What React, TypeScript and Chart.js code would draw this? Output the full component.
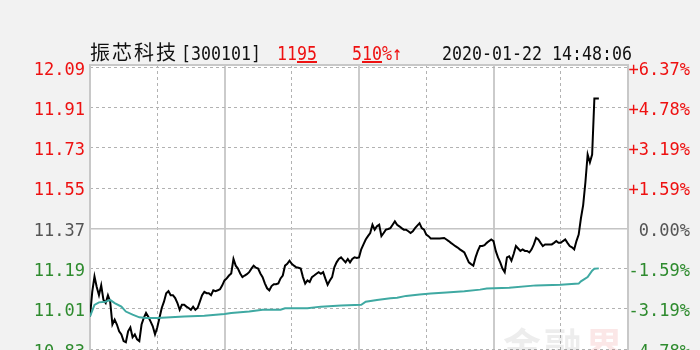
import React, { useEffect, useRef } from "react";
import { Chart, registerables } from "chart.js";

Chart.register(...registerables);

// ---- data ----
const PREV_CLOSE = 11.37;
const Y_MIN = 10.76;
const Y_MAX = 12.1;
const PRICE_TICKS = [12.09, 11.91, 11.73, 11.55, 11.37, 11.19, 11.01, 10.83];
const PCT_LABELS = ["+6.37%", "+4.78%", "+3.19%", "+1.59%", "0.00%", "-1.59%", "-3.19%", "-4.78%"];
const MINUTE_TICKS = [0, 30, 60, 90, 120, 150, 180, 210, 240];

// one price per trading minute, from 09:30 (index 0) to 14:48
const PRICES = [
  10.976, 11.086, 11.155, 11.108, 11.071, 11.115, 11.05, 11.036, 11.071, 11.042,
  10.94, 10.962, 10.94, 10.91, 10.896, 10.866, 10.861, 10.91, 10.927, 10.883,
  10.896, 10.874, 10.866, 10.94, 10.97, 10.992, 10.975, 10.954, 10.932, 10.896,
  10.927, 10.97, 11.014, 11.042, 11.08, 11.089, 11.071, 11.071, 11.058, 11.036,
  11.006, 11.028, 11.028, 11.02, 11.014, 11.006, 11.02, 11.006, 11.014, 11.042,
  11.071, 11.086, 11.08, 11.08, 11.071, 11.093, 11.089, 11.093, 11.098, 11.115,
  11.137, 11.146, 11.159, 11.168, 11.233, 11.203, 11.19, 11.168, 11.152, 11.159,
  11.165, 11.174, 11.19, 11.203, 11.194, 11.19, 11.168, 11.152, 11.124, 11.102,
  11.093, 11.112, 11.12, 11.12, 11.124, 11.146, 11.159, 11.203, 11.211, 11.225,
  11.211, 11.203, 11.196, 11.194, 11.19, 11.152, 11.123, 11.137, 11.13, 11.152,
  11.159, 11.167, 11.174, 11.167, 11.174, 11.145, 11.118, 11.137, 11.152, 11.196,
  11.218, 11.233, 11.24, 11.229, 11.218, 11.233, 11.218, 11.233, 11.24, 11.237,
  11.24, 11.276, 11.298, 11.32, 11.335, 11.349, 11.386, 11.364, 11.379, 11.386,
  11.335, 11.349, 11.364, 11.367, 11.371, 11.386, 11.401, 11.386, 11.379, 11.371,
  11.364, 11.364, 11.357, 11.349, 11.357, 11.371, 11.382, 11.393, 11.371, 11.364,
  11.342, 11.335, 11.325, 11.325, 11.325, 11.325, 11.325, 11.326, 11.327, 11.32,
  11.313, 11.305, 11.298, 11.29, 11.284, 11.276, 11.269, 11.262, 11.24, 11.218,
  11.21, 11.203, 11.24, 11.269, 11.291, 11.291, 11.295, 11.305, 11.313, 11.32,
  11.313, 11.269, 11.24, 11.218, 11.19, 11.174, 11.24, 11.245, 11.225, 11.255,
  11.291, 11.28, 11.269, 11.276, 11.269, 11.269, 11.262, 11.276, 11.298, 11.327,
  11.32, 11.305, 11.291, 11.298, 11.298, 11.298, 11.298, 11.305, 11.313, 11.305,
  11.305, 11.313, 11.32, 11.305, 11.291, 11.285, 11.276, 11.313, 11.342, 11.415,
  11.474, 11.576, 11.7, 11.665, 11.7, 11.95, 11.95, 11.95,
];

// average-price line, sampled minutes
const AVG_MINUTES = [0, 2, 4, 7, 9, 11, 14, 16, 19, 22, 25, 30, 36, 42, 51, 60, 63, 71, 77, 85, 87, 97, 103, 112, 121, 123, 128, 134, 137, 141, 147, 152, 159, 167, 174, 177, 187, 199, 210, 218, 219, 222, 224, 225, 227];
const AVG_PRICES = [10.976, 11.028, 11.039, 11.042, 11.05, 11.036, 11.02, 10.998, 10.984, 10.972, 10.969, 10.969, 10.972, 10.976, 10.979, 10.987, 10.991, 10.998, 11.006, 11.006, 11.013, 11.013, 11.02, 11.025, 11.028, 11.042, 11.05, 11.057, 11.06, 11.068, 11.074, 11.079, 11.083, 11.089, 11.096, 11.101, 11.104, 11.115, 11.118, 11.123, 11.133, 11.152, 11.181, 11.189, 11.191];

const RED = "#ee1111";
const GREEN = "#2e8b2e";
const GRAY = "#555555";
const MONO = "'DejaVu Sans Mono', monospace";

const tickColor = (v: number) =>
  Math.abs(v - PREV_CLOSE) < 1e-6 ? GRAY : v > PREV_CLOSE ? RED : GREEN;

const plotFrame = {
  id: "plotFrame",
  beforeDraw(chart: any) {
    const { ctx, chartArea: a } = chart;
    ctx.save();
    ctx.fillStyle = "#ffffff";
    ctx.fillRect(a.left, a.top, a.right - a.left, a.bottom - a.top);
    ctx.restore();
  },
  beforeDatasetsDraw(chart: any) {
    const { ctx, chartArea: a } = chart;
    ctx.save();
    ctx.strokeStyle = "#c8c8c8";
    ctx.lineWidth = 2;
    ctx.beginPath();
    ctx.moveTo(a.left, a.bottom);
    ctx.lineTo(a.left, a.top);
    ctx.lineTo(a.right, a.top);
    ctx.lineTo(a.right, a.bottom);
    ctx.stroke();
    ctx.restore();
  },
};

function IntradayChart() {
  const ref = useRef<HTMLCanvasElement | null>(null);
  useEffect(() => {
    if (!ref.current) return;
    const priceData = PRICES.map((p, i) => ({ x: i, y: p }));
    const avgData = AVG_MINUTES.map((m, i) => ({ x: m, y: AVG_PRICES[i] }));
    const chart = new Chart(ref.current, {
      type: "line",
      data: {
        datasets: [
          { data: avgData, borderColor: "#3fa9a2", borderWidth: 2, pointRadius: 0, tension: 0 },
          { data: priceData, borderColor: "#000000", borderWidth: 2, pointRadius: 0, tension: 0 },
        ],
      },
      options: {
        animation: false,
        responsive: false,
        events: [],
        layout: { padding: { top: 65, right: 10, bottom: 8, left: 0 } },
        plugins: { legend: { display: false }, tooltip: { enabled: false }, title: { display: false } },
        scales: {
          x: {
            type: "linear",
            min: 0,
            max: 240,
            afterBuildTicks: (s: any) => {
              s.ticks = MINUTE_TICKS.map((v) => ({ value: v }));
            },
            afterFit: (s: any) => {
              s.height = 0;
            },
            ticks: { display: false },
            grid: {
              drawTicks: false,
              color: (c: any) => (c.tick && c.tick.value % 60 === 0 ? "#cbcbcb" : "#b2b2b2"),
              lineWidth: (c: any) => (c.tick && c.tick.value % 60 === 0 ? 2 : 1),
            },
            border: {
              display: false,
              dash: (c: any) => (c.tick && c.tick.value % 60 !== 0 ? [3, 3] : []),
            },
          },
          y: {
            type: "linear",
            position: "left",
            min: Y_MIN,
            max: Y_MAX,
            afterBuildTicks: (s: any) => {
              s.ticks = PRICE_TICKS.map((v) => ({ value: v }));
            },
            afterFit: (s: any) => {
              s.width = 90;
            },
            ticks: {
              autoSkip: false,
              padding: 5,
              labelOffset: 3,
              font: { family: MONO, size: 17 },
              color: (c: any) => tickColor(c.tick.value),
              callback: (v: any) => Number(v).toFixed(2),
            },
            grid: {
              drawTicks: false,
              color: (c: any) => (c.tick && Math.abs(c.tick.value - PREV_CLOSE) < 1e-6 ? "#c4c4c4" : "#b2b2b2"),
              lineWidth: (c: any) => (c.tick && Math.abs(c.tick.value - PREV_CLOSE) < 1e-6 ? 1.5 : 1),
            },
            border: {
              display: false,
              dash: (c: any) => (c.tick && Math.abs(c.tick.value - PREV_CLOSE) > 1e-6 ? [3, 3] : []),
            },
          },
          pct: {
            type: "linear",
            position: "right",
            min: Y_MIN,
            max: Y_MAX,
            afterBuildTicks: (s: any) => {
              s.ticks = PRICE_TICKS.map((v) => ({ value: v }));
            },
            afterFit: (s: any) => {
              s.width = 62;
            },
            ticks: {
              autoSkip: false,
              padding: 0,
              labelOffset: 3,
              crossAlign: "far",
              font: { family: MONO, size: 17 },
              color: (c: any) => tickColor(c.tick.value),
              callback: (_v: any, i: number) => PCT_LABELS[i],
            },
            grid: { display: false, drawTicks: false },
            border: { display: false },
          },
        },
      } as any,
      plugins: [plotFrame],
    });
    return () => chart.destroy();
  }, []);
  return <canvas ref={ref} width={700} height={380} style={{ display: "block" }} />;
}

const monoText: React.CSSProperties = {
  position: "absolute",
  top: 43,
  fontFamily: MONO,
  fontSize: 20,
  lineHeight: "20px",
  whiteSpace: "nowrap",
  transform: "scaleX(0.83)",
  transformOrigin: "left center",
};

export default function App() {
  return (
    <div
      style={{
        position: "fixed",
        left: 0,
        top: 0,
        width: 700,
        height: 350,
        overflow: "hidden",
        background: "#f2f2f2",
      }}
    >
      <IntradayChart />
      <span
        style={{
          position: "absolute",
          left: 90,
          top: 41,
          fontFamily: "'Noto Sans CJK SC', sans-serif",
          fontSize: 20,
          lineHeight: "22px",
          letterSpacing: 2,
          color: "#111",
          whiteSpace: "nowrap",
        }}
      >
        振芯科技
      </span>
      <span style={{ ...monoText, left: 181, color: "#111" }}>[300101]</span>
      <span style={{ ...monoText, left: 277, color: RED }}>
        11<u>95</u>
      </span>
      <span style={{ ...monoText, left: 352, color: RED }}>
        5<u>10</u>%↑
      </span>
      <span style={{ ...monoText, left: 442, color: "#111" }}>2020-01-22 14:48:06</span>
      <span
        style={{
          position: "absolute",
          left: 503,
          top: 322,
          fontFamily: "'Noto Sans CJK SC', sans-serif",
          fontWeight: 700,
          fontSize: 38,
          lineHeight: "44px",
          letterSpacing: 3,
          color: "rgba(0,0,0,0.07)",
          whiteSpace: "nowrap",
          pointerEvents: "none",
        }}
      >
        金融<span style={{ color: "rgba(220,60,60,0.12)" }}>界</span>
      </span>
    </div>
  );
}
